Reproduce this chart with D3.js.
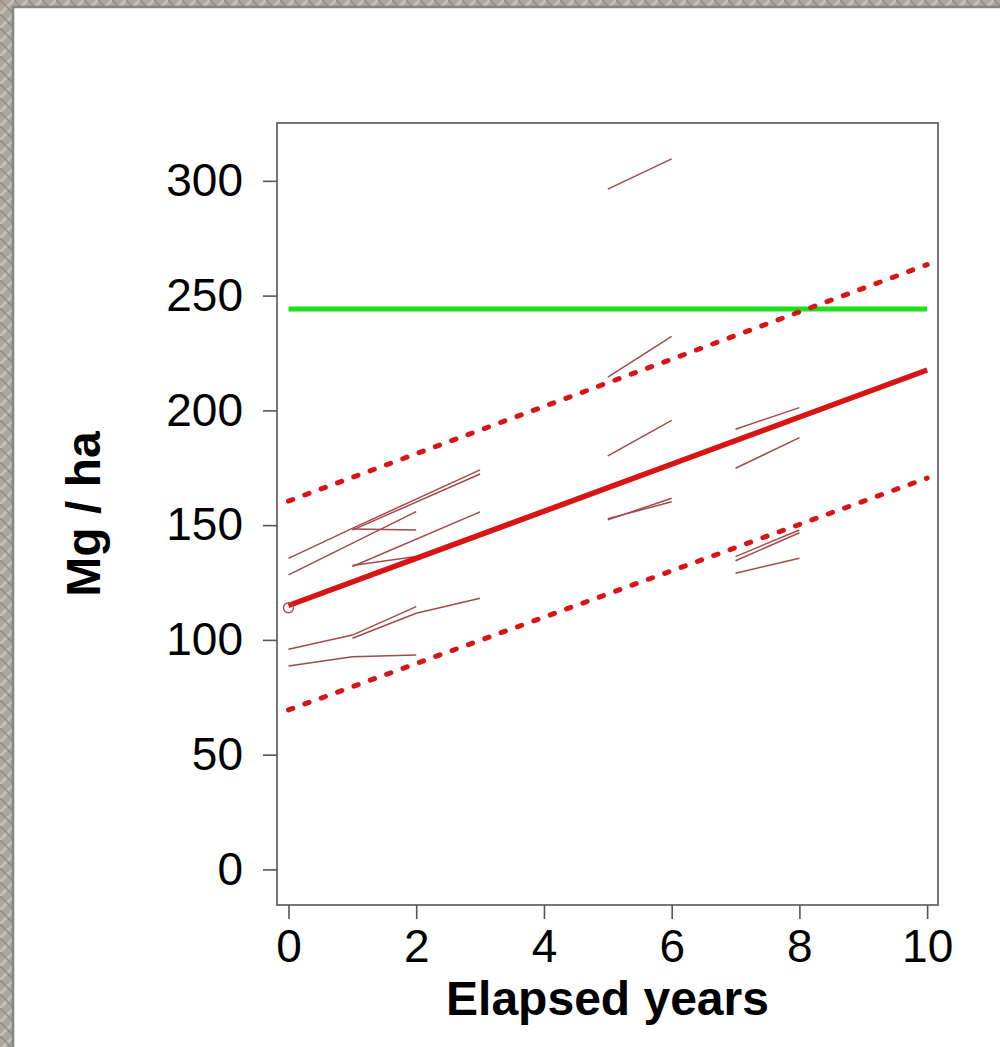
<!DOCTYPE html>
<html>
<head>
<meta charset="utf-8">
<script src="https://cdn.jsdelivr.net/npm/d3@7"></script>
<style>
  body { margin: 0; background: #a9a49c; }
  svg { display: block; }
  text { font-family: Arial, "Liberation Sans", sans-serif; fill: #000; }
</style>
</head>
<body>
<script>
"use strict";
// axis ticks
const xTicks = [0, 2, 4, 6, 8, 10];
const yTicks = [0, 50, 100, 150, 200, 250, 300];

// repeated measurements per plot: [elapsed year, Mg/ha]
const plots = [
  [[0, 135.5], [1, 148.6], [3, 174.1]],
  [[1, 147.8], [3, 172.3]],
  [[1, 148.3], [2, 147.9]],
  [[0, 128.3], [2, 155.9]],
  [[1, 132.0], [3, 155.8]],
  [[1, 132.4], [2, 136.3]],
  [[0, 95.9], [1, 102.1], [2, 114.5]],
  [[1, 100.7], [2, 111.6], [3, 118.1]],
  [[0, 88.6], [1, 92.7], [2, 93.4]],
  [[5, 296.4], [6, 309.6]],
  [[5, 214.5], [6, 232.2]],
  [[5, 180.2], [6, 195.6]],
  [[5, 152.3], [6, 161.7]],
  [[5, 152.8], [6, 160.2]],
  [[7, 191.8], [8, 201.2]],
  [[7, 174.8], [8, 188.1]],
  [[7, 136.3], [8, 147.9]],
  [[7, 134.5], [8, 146.7]],
  [[7, 129.0], [8, 135.6]]
];

const fitLine = [[0, 115.0], [10, 217.6]];
const upperBand = [[0, 160.5], [10, 263.5]];
const lowerBand = [[0, 69.5], [10, 170.5]];
const targetLevel = 244.2;
const firstObs = [0, 114];

const svg = d3.select("body").append("svg")
    .attr("width", 1000)
    .attr("height", 1047);

// textured slide background
const defs = svg.append("defs");
const pat = defs.append("pattern")
    .attr("id", "tex")
    .attr("width", 14).attr("height", 14)
    .attr("patternUnits", "userSpaceOnUse");
pat.append("rect").attr("width", 14).attr("height", 14).attr("fill", "#aba69e");
pat.append("path").attr("d", "M0,14 L14,0").attr("stroke", "#c4c0b8").attr("stroke-width", 3);
pat.append("path").attr("d", "M0,0 L14,14").attr("stroke", "#8f8a83").attr("stroke-width", 1.5);

svg.append("rect").attr("width", 1000).attr("height", 1047).attr("fill", "url(#tex)");
svg.append("rect")
    .attr("x", 13).attr("y", 7)
    .attr("width", 1000).attr("height", 1060)
    .attr("fill", "#fff")
    .attr("stroke", "#858585")
    .attr("stroke-width", 2.5);

const x = d3.scaleLinear().domain([-0.18, 10.17]).range([277, 938]);
const y = d3.scaleLinear().domain([-15.5, 325.2]).range([905, 123]);

const line = d3.line().x(d => x(d[0])).y(d => y(d[1]));

// axes
const yAxis = svg.append("g")
    .attr("transform", "translate(277,0)")
    .call(d3.axisLeft(y).tickValues(yTicks).tickSize(14).tickPadding(20));
yAxis.select(".domain").remove();
yAxis.selectAll("line").attr("stroke", "#555").attr("stroke-width", 1.6);
yAxis.selectAll("text").attr("font-size", 46).attr("font-family", "Arial, 'Liberation Sans', sans-serif");

const xAxis = svg.append("g")
    .attr("transform", "translate(0,905)")
    .call(d3.axisBottom(x).tickValues(xTicks).tickSize(14));
xAxis.select(".domain").remove();
xAxis.selectAll("line").attr("stroke", "#555").attr("stroke-width", 1.6);
xAxis.selectAll("text")
    .attr("font-size", 46)
    .attr("font-family", "Arial, 'Liberation Sans', sans-serif")
    .attr("y", 57).attr("dy", 0);

// box
svg.append("rect")
    .attr("x", 277).attr("y", 123)
    .attr("width", 938 - 277).attr("height", 905 - 123)
    .attr("fill", "none")
    .attr("stroke", "#555")
    .attr("stroke-width", 1.6);

// target level
svg.append("path")
    .attr("d", line([[0, targetLevel], [10, targetLevel]]))
    .attr("stroke", "#1fe01f")
    .attr("stroke-width", 5)
    .attr("fill", "none");

// individual plots
svg.append("g").selectAll("path")
    .data(plots)
    .enter()
    .append("path")
    .attr("d", line)
    .attr("fill", "none")
    .attr("stroke", "#a34a4a")
    .attr("stroke-width", 1.5);

// fitted trend and bands
svg.append("path")
    .attr("d", line(fitLine))
    .attr("stroke", "#d81414")
    .attr("stroke-width", 5.5)
    .attr("fill", "none");

svg.append("g").selectAll("path")
    .data([upperBand, lowerBand])
    .enter()
    .append("path")
    .attr("d", line)
    .attr("fill", "none")
    .attr("stroke", "#d81414")
    .attr("stroke-width", 5)
    .attr("stroke-linecap", "round")
    .attr("stroke-dasharray", "4.5,12.9");

svg.append("circle")
    .attr("cx", x(firstObs[0]))
    .attr("cy", y(firstObs[1]))
    .attr("r", 5)
    .attr("fill", "none")
    .attr("stroke", "#c04444")
    .attr("stroke-width", 1.4);

// labels
svg.append("text")
    .attr("x", 607.5).attr("y", 1015)
    .attr("text-anchor", "middle")
    .attr("font-size", 48)
    .attr("font-weight", "bold")
    .text("Elapsed years");

svg.append("text")
    .attr("transform", "translate(100,514) rotate(-90)")
    .attr("text-anchor", "middle")
    .attr("font-size", 48)
    .attr("font-weight", "bold")
    .text("Mg / ha");
</script>
</body>
</html>
